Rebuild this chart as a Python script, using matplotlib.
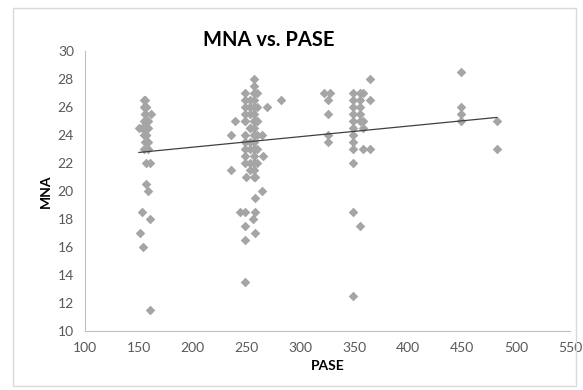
import numpy as np
import matplotlib.pyplot as plt
from matplotlib.patches import Rectangle

plt.rcParams['font.family'] = ['Lato', 'DejaVu Sans']

# PASE / MNA values (some points overlap)
pase_a = [155, 157, 156, 161, 157, 150, 153, 158, 157, 156, 158, 155, 157, 160,
          157, 158, 153, 160, 151, 154, 160, 156,
          155, 157, 156, 157, 155, 158, 156, 157, 155, 157, 158, 156]
mna_a = [26.5, 26, 25.5, 25.5, 25, 24.5, 24.5, 24.5, 24, 23.5, 23, 23, 22, 22,
         20.5, 20, 18.5, 18, 17, 16, 11.5, 24,
         26, 26, 25.5, 25, 25, 25, 24.5, 24.5, 24, 24, 23.5, 26.5]

pase_b = [248, 248, 248, 248, 248, 248, 248, 248, 248, 248,
          253, 253, 253, 253, 253, 253, 253, 253,
          257, 257, 257, 257, 257, 257, 257, 257, 257, 257, 257, 257, 257, 257, 257,
          260, 260, 260, 260, 260, 260,
          269, 282, 239, 235, 264, 265, 235, 249, 258, 264, 258,
          244, 248, 258, 256, 248, 258, 248, 248,
          248, 253, 257, 257, 260, 253]
mna_b = [27, 26.5, 26, 25.5, 25, 24, 23.5, 23, 22.5, 22,
         26.5, 26, 25.5, 24.5, 23.5, 23, 22, 21.5,
         28, 27.5, 27, 26.5, 26, 25.5, 25, 24.5, 24, 23.5, 23, 22.5, 22, 21.5, 21,
         27, 26, 25, 24, 23, 22,
         26, 26.5, 25, 24, 24, 22.5, 21.5, 21, 21, 20, 19.5,
         18.5, 18.5, 18.5, 18, 17.5, 17, 16.5, 13.5,
         25, 24.5, 25, 24, 25, 26]

pase_c = [322, 327, 325, 325, 325, 325,
          349, 349, 349, 349, 349, 349, 349, 349, 349, 349, 349, 349,
          355, 355, 355, 355, 355, 355,
          358, 358, 358, 364, 364, 364, 358,
          449, 449, 449, 449, 482, 482]
mna_c = [27, 27, 26.5, 25.5, 24, 23.5,
         27, 26.5, 26, 25.5, 25, 24.5, 24, 23.5, 23, 22, 18.5, 12.5,
         27, 26.5, 26, 25.5, 25, 17.5,
         27, 25, 24.5, 28, 26.5, 23, 23,
         28.5, 26, 25.5, 25, 25, 23]

pase = np.array(pase_a + pase_b + pase_c, dtype=float)
mna = np.array(mna_a + mna_b + mna_c, dtype=float)

fig = plt.figure(figsize=(5.83, 3.9), dpi=100)
ax = fig.add_axes([0.1458, 0.1513, 0.8319, 0.7179])

ax.scatter(pase, mna, marker='D', s=24, color='#A5A5A5', linewidths=0, zorder=3)

# linear trendline
k, b = np.polyfit(pase, mna, 1)
xs = np.array([pase.min(), pase.max()])
ax.plot(xs, k * xs + b, color='#404040', linewidth=0.9, zorder=4)

ax.set_xlim(100, 550)
ax.set_ylim(10, 30)
ax.set_xticks(range(100, 551, 50))
ax.set_yticks(range(10, 31, 2))
ax.tick_params(length=0, labelsize=10, colors='#595959', pad=8)

for s in ['top', 'right']:
    ax.spines[s].set_visible(False)
for s in ['left', 'bottom']:
    ax.spines[s].set_color('#BFBFBF')

fig.text(269 / 583, 1 - 40 / 390, 'MNA vs. PASE', fontsize=14.5, fontweight='bold',
         ha='center', va='center')
ax.set_xlabel('PASE', fontsize=10, fontweight='bold', labelpad=4)
ax.set_ylabel('MNA', fontsize=10, fontweight='bold', labelpad=4)

fig.patches.append(Rectangle((13 / 583, 4 / 390), 563 / 583, 378 / 390,
                             transform=fig.transFigure, fill=False,
                             edgecolor='#D9D9D9', linewidth=1))

fig.savefig('out.png', dpi=100)
